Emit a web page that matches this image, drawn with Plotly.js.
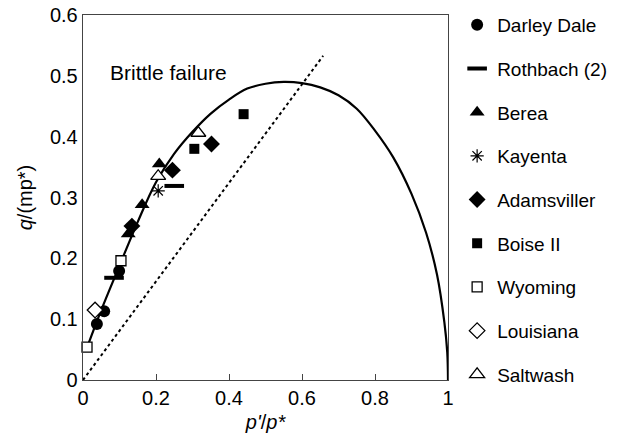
<!DOCTYPE html>
<html>
<head>
<meta charset="utf-8">
<script src="https://cdn.plot.ly/plotly-3.0.1.min.js"></script>
<style>
  html, body { margin: 0; padding: 0; background: #fff; }
  #chart { width: 619px; height: 443px; }
</style>
</head>
<body>
<div id="chart"></div>
<script>
// Normalised yield envelope, q/(M p*) against p'/p*
const envelopeX = [0.012, 0.05, 0.10, 0.15, 0.20, 0.25, 0.30, 0.35, 0.40, 0.45, 0.50, 0.55, 0.60, 0.65, 0.70, 0.75, 0.80, 0.85, 0.90, 0.94, 0.97, 0.99, 0.998, 1.0];
const envelopeQ = [0.055, 0.115, 0.188, 0.26, 0.325, 0.372, 0.408, 0.438, 0.461, 0.479, 0.487, 0.49, 0.488, 0.481, 0.468, 0.446, 0.41, 0.366, 0.306, 0.242, 0.173, 0.095, 0.045, 0.0];

// Dotted reference line
const refX = [0, 0.658];
const refQ = [0, 0.533];

// Rock samples
const darleyX = [0.038, 0.058, 0.099];
const darleyQ = [0.092, 0.113, 0.179];
const rothbachX = [0.085, 0.25];
const rothbachQ = [0.168, 0.319];
const bereaX = [0.124, 0.162, 0.209];
const bereaQ = [0.24, 0.288, 0.355];
const kayentaX = [0.206];
const kayentaQ = [0.311];
const adamsX = [0.134, 0.245, 0.352];
const adamsQ = [0.253, 0.345, 0.388];
const boiseX = [0.305, 0.44];
const boiseQ = [0.38, 0.437];
const wyomingX = [0.011, 0.104];
const wyomingQ = [0.054, 0.196];
const louisianaX = [0.033];
const louisianaQ = [0.115];
const saltwashX = [0.206, 0.316];
const saltwashQ = [0.335, 0.406];

const xTicks = [0, 0.2, 0.4, 0.6, 0.8, 1];
const xTickText = ['0', '0.2', '0.4', '0.6', '0.8', '1'];
const yTicks = [0, 0.1, 0.2, 0.3, 0.4, 0.5, 0.6];
const yTickText = ['0', '0.1', '0.2', '0.3', '0.4', '0.5', '0.6'];

const FONT = 'Liberation Sans, Arial, sans-serif';

function sample(name, x, y, marker, g) {
  return {
    type: 'scatter', mode: 'markers', name: name, x: x, y: y,
    marker: marker, legendgroup: g, cliponaxis: false
  };
}

const traces = [
  { type: 'scatter', mode: 'lines', x: envelopeX, y: envelopeQ, showlegend: false,
    line: { color: '#000', width: 2.2, shape: 'spline', smoothing: 1 }, hoverinfo: 'skip' },
  { type: 'scatter', mode: 'lines', x: refX, y: refQ, showlegend: false,
    line: { color: '#000', width: 2, dash: 'dot' }, hoverinfo: 'skip' },
  sample('Darley Dale', darleyX, darleyQ, { symbol: 'circle', size: 12, color: '#000' }, 'g1'),
  sample('Rothbach (2)', rothbachX, rothbachQ, { symbol: 'line-ew', size: 14, color: '#000', line: { color: '#000', width: 4 } }, 'g2'),
  sample('Berea', bereaX, bereaQ, { symbol: 'triangle-up', size: 13, color: '#000' }, 'g3'),
  sample('Kayenta', kayentaX, kayentaQ, { symbol: 'asterisk-open', size: 11, color: '#000', line: { color: '#000', width: 1.2 } }, 'g4'),
  sample('Adamsviller', adamsX, adamsQ, { symbol: 'diamond', size: 13, color: '#000' }, 'g5'),
  sample('Boise II', boiseX, boiseQ, { symbol: 'square', size: 10, color: '#000' }, 'g6'),
  sample('Wyoming', wyomingX, wyomingQ, { symbol: 'square', size: 10, color: '#fff', line: { color: '#000', width: 1.3 } }, 'g7'),
  sample('Louisiana', louisianaX, louisianaQ, { symbol: 'diamond', size: 12, color: '#fff', line: { color: '#000', width: 1.3 } }, 'g8'),
  sample('Saltwash', saltwashX, saltwashQ, { symbol: 'triangle-up', size: 13, color: '#fff', line: { color: '#000', width: 1.3 } }, 'g9')
];

const layout = {
  width: 619, height: 443,
  margin: { l: 83, r: 171, t: 15, b: 63, autoexpand: false },
  paper_bgcolor: '#fff', plot_bgcolor: '#fff',
  font: { family: FONT, size: 19, color: '#000' },
  showlegend: true,
  legend: {
    x: 1.025, y: 1.025, xanchor: 'left', yanchor: 'top',
    font: { family: FONT, size: 19, color: '#000' },
    traceorder: 'grouped', tracegroupgap: 16, itemwidth: 30,
    maxheight: 1
  },
  xaxis: {
    range: [0, 1], tickvals: xTicks, ticktext: xTickText,
    ticks: 'inside', ticklen: 6, tickcolor: '#444', tickwidth: 1,
    showline: true, linecolor: '#444', linewidth: 1.3, mirror: true,
    showgrid: false, zeroline: false,
    tickfont: { family: FONT, size: 20 },
    title: { text: "<i>p'</i>/<i>p*</i>", font: { family: FONT, size: 20 }, standoff: 6 }
  },
  yaxis: {
    range: [0, 0.6], tickvals: yTicks, ticktext: yTickText,
    ticks: '', showline: true, linecolor: '#444', linewidth: 1.3, mirror: true,
    showgrid: false, zeroline: false,
    tickfont: { family: FONT, size: 20 },
    title: { text: '<i>q</i>/(mp*)', font: { family: FONT, size: 20 }, standoff: 12 }
  },
  annotations: [{
    text: 'Brittle failure', xref: 'x', yref: 'y', x: 0.068, y: 0.505,
    xanchor: 'left', yanchor: 'middle', showarrow: false,
    font: { family: FONT, size: 21, color: '#000' }
  }]
};

Plotly.newPlot('chart', traces, layout, { displayModeBar: false, staticPlot: true });
</script>
</body>
</html>
